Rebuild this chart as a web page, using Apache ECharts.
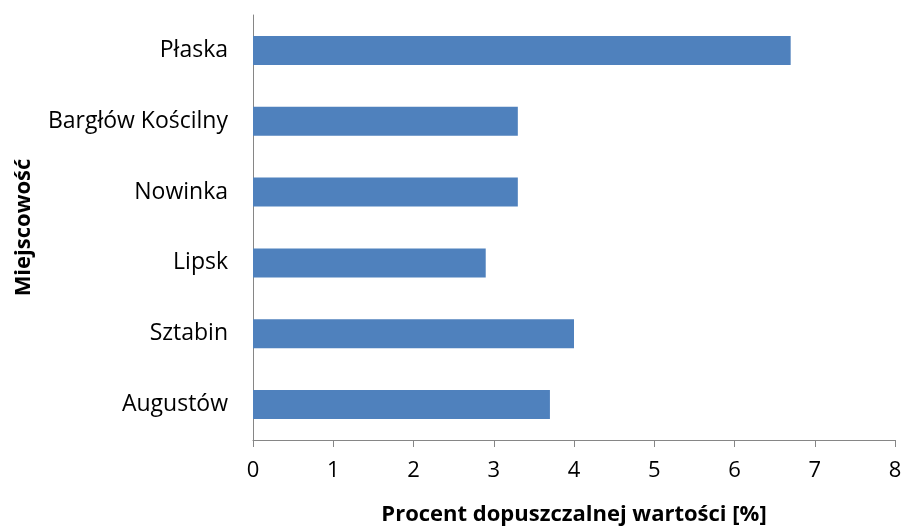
<!DOCTYPE html>
<html>
<head>
<meta charset="utf-8">
<script src="https://cdn.jsdelivr.net/npm/echarts@6/dist/echarts.min.js"></script>
<style>
html, body { margin: 0; padding: 0; background: #fff; }
#chart { width: 906px; height: 529px; }
</style>
</head>
<body>
<div id="chart"></div>
<script>
const categories = ["Augustów", "Sztabin", "Lipsk", "Nowinka", "Bargłów Kościlny", "Płaska"];
const values = [3.7, 4.0, 2.9, 3.3, 3.3, 6.7];
const xTicks = [0, 8, 1];

const chart = echarts.init(document.getElementById("chart"));
chart.setOption({
	animation: false,
	textStyle: {fontFamily: "Open Sans"},
	grid: {left: 253, right: 11, top: 15, bottom: 89, outerBoundsMode: "none"},
	xAxis: {
		type: "value",
		min: xTicks[0],
		max: xTicks[1],
		interval: xTicks[2],
		name: "Procent dopuszczalnej wartości [%]",
		nameLocation: "middle",
		nameGap: 64,
		nameTextStyle: {fontSize: 22, fontWeight: "bold", color: "#000"},
		axisLine: {show: true, lineStyle: {color: "#868686"}},
		axisTick: {show: true, length: 7, lineStyle: {color: "#868686"}},
		axisLabel: {fontSize: 22, color: "#000", margin: 20},
		splitLine: {show: false}
	},
	yAxis: {
		type: "category",
		data: categories,
		name: "Miejscowość",
		nameLocation: "middle",
		nameGap: 218,
		nameRotate: 90,
		nameTextStyle: {fontSize: 22, fontWeight: "bold", color: "#000"},
		axisLine: {show: true, lineStyle: {color: "#868686"}},
		axisTick: {show: false},
		axisLabel: {fontSize: 23, color: "#000", margin: 25, padding: [4, 0, 0, 0]}
	},
	series: [
		{
			type: "bar",
			data: values,
			barWidth: "41%",
			itemStyle: {color: "#4f81bd"}
		}
	]
});
</script>
</body>
</html>
